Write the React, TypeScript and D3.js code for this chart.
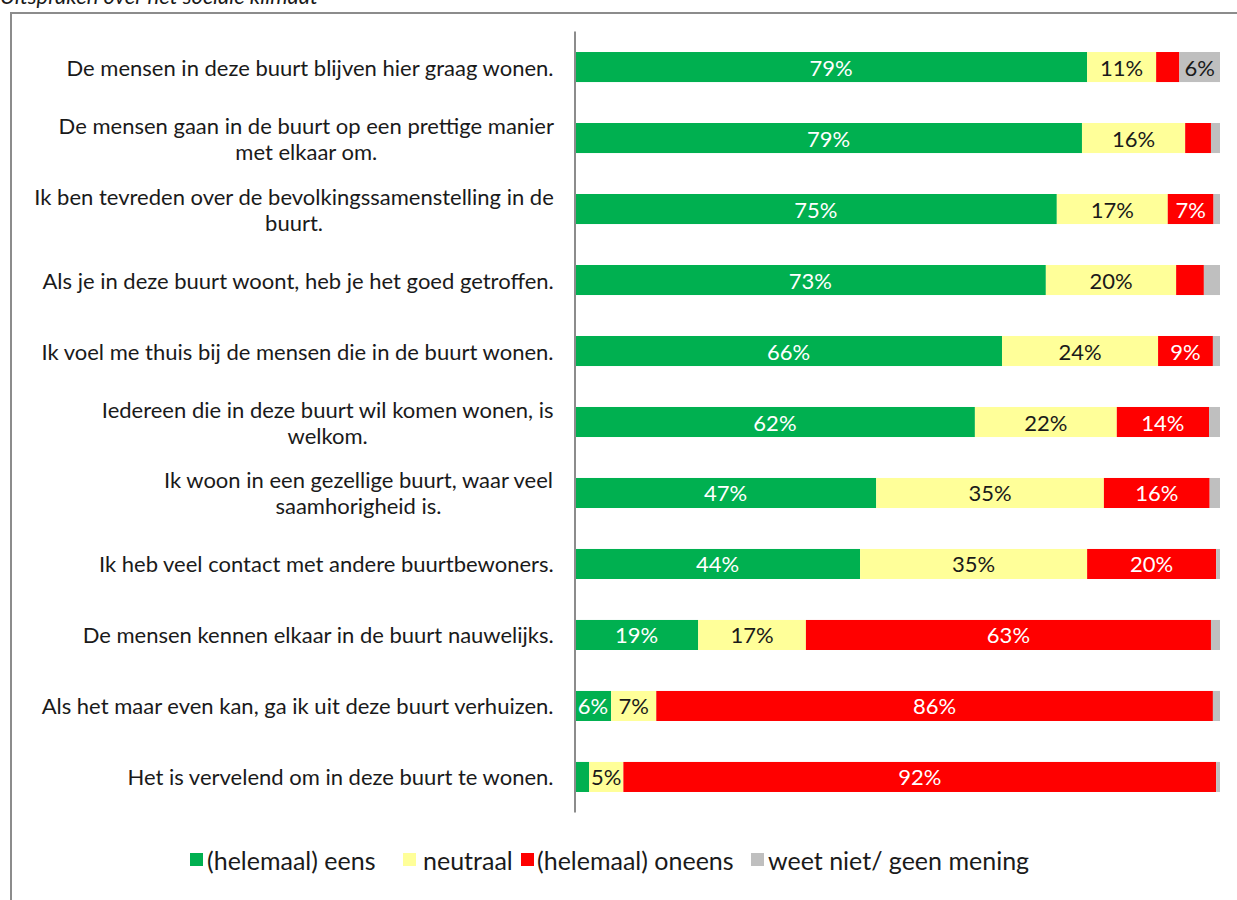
import React from "react";
import * as d3 from "d3";

const title = "Uitspraken over het sociale klimaat";

const categories = [
  "De mensen in deze buurt blijven hier graag wonen.",
  "De mensen gaan in de buurt op een prettige manier\nmet elkaar om.",
  "Ik ben tevreden over de bevolkingssamenstelling in de\nbuurt.",
  "Als je in deze buurt woont, heb je het goed getroffen.",
  "Ik voel me thuis bij de mensen die in de buurt wonen.",
  "Iedereen die in deze buurt wil komen wonen, is\nwelkom.",
  "Ik woon in een gezellige buurt, waar veel\nsaamhorigheid is.",
  "Ik heb veel contact met andere buurtbewoners.",
  "De mensen kennen elkaar in de buurt nauwelijks.",
  "Als het maar even kan, ga ik uit deze buurt verhuizen.",
  "Het is vervelend om in deze buurt te wonen.",
];

const seriesNames = ["(helemaal) eens", "neutraal", "(helemaal) oneens", "weet niet/ geen mening"];
const eens = [79.4, 78.6, 74.7, 73.0, 66.2, 62.0, 46.7, 44.2, 19.1, 5.6, 2.2];
const neutraal = [10.7, 16.0, 17.2, 20.2, 24.2, 22.0, 35.3, 35.2, 16.7, 7.0, 5.3];
const oneens = [3.6, 4.0, 7.1, 4.3, 8.5, 14.3, 16.4, 20.0, 62.8, 86.3, 91.9];
const weetNiet = [6.3, 1.4, 1.0, 2.5, 1.1, 1.7, 1.6, 0.6, 1.4, 1.1, 0.6];

const colors = ["#00B050", "#FFFF99", "#FF0000", "#BFBFBF"];
const labelColors = ["#ffffff", "#1a1a1a", "#ffffff", "#1a1a1a"];
const legendX = [190, 403, 521, 751];
const legendTextOffset = [17, 20, 16, 17];

const FONT = "Lato, 'Noto Sans', sans-serif";
const FS = 22;
const LEGEND_FS = 25;

let ctx: CanvasRenderingContext2D | null = null;
function measure(t: string): number {
  if (!ctx) {
    const c = document.createElement("canvas");
    ctx = c.getContext("2d");
  }
  if (!ctx) return t.length * FS * 0.5;
  ctx.font = `${FS}px Lato`;
  return ctx.measureText(t).width;
}

export default function App() {
  const W = 1237;
  const H = 900;
  const keys = seriesNames;
  const table = categories.map((c, i) => ({
    cat: c,
    [keys[0]]: eens[i],
    [keys[1]]: neutraal[i],
    [keys[2]]: oneens[i],
    [keys[3]]: weetNiet[i],
  }));
  const stack = d3.stack<any>().keys(keys)(table);

  const x = d3.scaleLinear().domain([0, 100]).range([575, 1220]);
  const y = d3
    .scaleBand<string>()
    .domain(categories)
    .range([31.5, 812.5])
    .paddingInner(0.577)
    .paddingOuter(0.289);

  const labelRight = 554;
  const lineH = 26;

  return (
    <svg
      width={W}
      height={H}
      style={{ position: "absolute", left: 0, top: 0, background: "#fff" }}
      fontFamily={FONT}
    >
      <text x={0} y={4} fontSize={22} fontStyle="italic" fill="#1a1a1a">
        {title}
      </text>
      <rect x={11} y={13} width={1240} height={900} fill="none" stroke="#8c8c8c" strokeWidth={2} />

      {/* category labels */}
      {categories.map((c) => {
        const lines = c.split("\n");
        const maxW = Math.max(...lines.map(measure));
        const cx = labelRight - maxW / 2;
        const cy = (y(c) as number) + y.bandwidth() / 2;
        return (
          <g key={c}>
            {lines.map((ln, j) => (
              <text
                key={j}
                x={cx}
                y={cy + (j - (lines.length - 1) / 2) * lineH}
                textAnchor="middle"
                dominantBaseline="central"
                fontSize={FS}
                fill="#1a1a1a"
              >
                {ln}
              </text>
            ))}
          </g>
        );
      })}

      {/* bars */}
      {stack.map((s, si) => (
        <g key={s.key} fill={colors[si]}>
          {s.map((d, i) => {
            const x0 = x(d[0]);
            const x1 = x(d[1]);
            const v = d[1] - d[0];
            const yy = y(categories[i]) as number;
            return (
              <g key={i}>
                <rect x={x0} y={yy} width={x1 - x0} height={y.bandwidth()} />
                {v >= 5 && (
                  <text
                    x={(x0 + x1) / 2}
                    y={yy + y.bandwidth() / 2}
                    textAnchor="middle"
                    dominantBaseline="central"
                    fontSize={FS}
                    fill={labelColors[si]}
                  >
                    {`${Math.round(v)}%`}
                  </text>
                )}
              </g>
            );
          })}
        </g>
      ))}

      {/* axis line */}
      <line x1={575} x2={575} y1={31.5} y2={812.5} stroke="#8c8c8c" strokeWidth={2} />

      {/* legend */}
      {seriesNames.map((n, i) => (
        <g key={n} transform={`translate(${legendX[i]},860)`}>
          <rect x={0} y={-7} width={13} height={13} fill={colors[i]} />
          <text x={legendTextOffset[i]} y={0} dominantBaseline="central" fontSize={LEGEND_FS} fill="#1a1a1a">
            {n}
          </text>
        </g>
      ))}
    </svg>
  );
}
